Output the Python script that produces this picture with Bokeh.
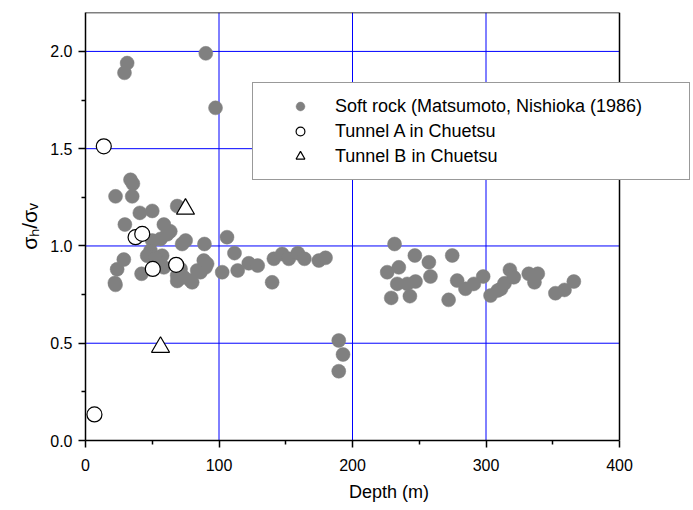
from bokeh.plotting import figure
from bokeh.models import Legend, LegendItem, Range1d, FixedTicker, NumeralTickFormatter
from bokeh.embed import file_html
from bokeh.resources import INLINE

# Soft rock (Matsumoto, Nishioka (1986))
soft_depth = [29.2, 31.2, 90.1, 97.4, 33.7, 35.5, 22.5, 35.0, 40.7, 50.0, 68.7,
              29.5, 58.7, 63.5, 56.2, 106.0, 75.0, 89.1, 72.4, 50.0, 61.2,
              48.7, 28.7, 23.7, 22.0, 22.5, 46.2, 42.0, 57.4, 52.4, 58.7, 56.2,
              68.7, 68.7, 73.6, 78.7, 79.9, 83.7, 86.1, 89.9, 88.6, 91.1, 71.2,
              102.4, 111.6, 114.0, 122.3, 129.0, 139.8, 141.1, 147.3, 152.3, 159.0,
              164.0, 174.8, 179.8, 189.7, 192.9, 189.7,
              231.5, 226.0, 234.7, 233.5, 229.0, 246.7, 241.0, 247.2, 243.0, 257.2, 258.4,
              274.7, 278.4, 272.0, 284.6, 290.9, 297.9, 303.4, 308.8, 311.3, 313.9,
              317.9, 320.8, 332.0, 338.8, 336.3, 352.0, 358.8, 365.8]
soft_ratio = [1.89, 1.94, 1.99, 1.71, 1.34, 1.32, 1.255, 1.255, 1.17, 1.18, 1.205,
              1.11, 1.11, 1.075, 1.036, 1.045, 1.028, 1.01, 1.01, 1.028, 1.06,
              0.976, 0.93, 0.88, 0.81, 0.80, 0.95, 0.857, 0.95, 0.934, 0.89, 0.90,
              0.82, 0.848, 0.839, 0.822, 0.813, 0.874, 0.865, 0.89, 0.925, 0.908, 0.882,
              0.865, 0.963, 0.874, 0.911, 0.899, 0.813, 0.934, 0.959, 0.934, 0.963,
              0.934, 0.925, 0.939, 0.514, 0.442, 0.356,
              1.01, 0.865, 0.89, 0.805, 0.733, 0.951, 0.805, 0.817, 0.742, 0.916, 0.843,
              0.951, 0.822, 0.723, 0.78, 0.805, 0.843, 0.745, 0.771, 0.78, 0.808,
              0.877, 0.839, 0.857, 0.857, 0.813, 0.757, 0.774, 0.817]

# Tunnel A in Chuetsu
tunA_depth = [6.7, 13.7, 37.5, 42.5, 50.4, 67.9]
tunA_ratio = [0.134, 1.512, 1.045, 1.062, 0.882, 0.903]

# Tunnel B in Chuetsu
tunB_depth = [74.9, 56.2]
tunB_ratio = [1.19, 0.48]

x_ticks = [0, 100, 200, 300, 400]
x_minor = [50, 150, 250, 350]
y_ticks = [0.0, 0.5, 1.0, 1.5, 2.0]
y_minor = [0.25, 0.75, 1.25, 1.75]
X_MAX = 400
Y_MAX = 2.2

FONT = "Liberation Sans"

W, H = 693, 510
LEFT, RIGHT, TOP, BOTTOM = 85, 1, 12, 70
frame_w = W - LEFT - RIGHT
axis_px = 534  # pixel length of 0..400 on the x axis
x_end = X_MAX * frame_w / axis_px  # room to the right of the frame for the legend

p = figure(width=W, height=H, output_backend="svg", toolbar_location=None,
           x_range=Range1d(0, x_end), y_range=Range1d(0, Y_MAX),
           min_border_left=LEFT, min_border_right=RIGHT,
           min_border_top=TOP, min_border_bottom=BOTTOM)

p.background_fill_color = "white"
p.border_fill_color = "white"
p.outline_line_color = None
p.xgrid.visible = False
p.ygrid.visible = False

for ax in (p.xaxis[0], p.yaxis[0]):
    ax.axis_line_width = 1.5
    ax.axis_line_color = "black"
    ax.major_tick_line_width = 1.5
    ax.minor_tick_line_width = 1.5
    ax.major_tick_out = 7
    ax.major_tick_in = 0
    ax.minor_tick_out = 4
    ax.minor_tick_in = 0
    ax.major_label_text_font = FONT
    ax.major_label_text_font_size = "16px"
    ax.major_label_text_color = "black"
    ax.axis_label_text_font = FONT
    ax.axis_label_text_font_style = "normal"
    ax.axis_label_text_color = "black"

p.xaxis.bounds = (0, X_MAX)
p.xaxis.ticker = FixedTicker(ticks=x_ticks, minor_ticks=x_minor)
p.yaxis.ticker = FixedTicker(ticks=y_ticks, minor_ticks=y_minor)
p.yaxis.formatter = NumeralTickFormatter(format="0.0")
p.xaxis.major_label_standoff = 11
p.yaxis.major_label_standoff = 6
p.xaxis.axis_label = "Depth (m)"
p.yaxis.axis_label = "σₕ/σᵥ"
p.xaxis.axis_label_text_font_size = "18px"
p.yaxis.axis_label_text_font_size = "21px"
p.xaxis.axis_label_standoff = 8
p.yaxis.axis_label_standoff = 6

# blue grid lines, limited to the 0..400 x 0..2.2 box
gx = x_ticks[1:-1]
p.segment(x0=gx, x1=gx, y0=[0] * len(gx), y1=[Y_MAX] * len(gx),
          line_color="#0000ff", line_width=1)
gy = y_ticks[1:]
p.segment(x0=[0] * len(gy), x1=[X_MAX] * len(gy), y0=gy, y1=gy,
          line_color="#0000ff", line_width=1)
# frame: top and right borders
p.segment(x0=[0, X_MAX], x1=[X_MAX, X_MAX], y0=[Y_MAX, 0], y1=[Y_MAX, Y_MAX],
          line_color="black", line_width=1.5)

r_soft = p.scatter(soft_depth, soft_ratio, marker="circle", size=14,
                   fill_color="#808080", line_color="#808080", line_width=0.5)
r_a = p.scatter(tunA_depth, tunA_ratio, marker="circle", size=15,
                fill_color="white", line_color="black", line_width=1.2)
r_b = p.scatter(tunB_depth, tunB_ratio, marker="triangle", size=18,
                fill_color="white", line_color="black", line_width=1.2)

legend = Legend(items=[
    LegendItem(label="Soft rock (Matsumoto, Nishioka (1986)", renderers=[r_soft]),
    LegendItem(label="Tunnel A in Chuetsu", renderers=[r_a]),
    LegendItem(label="Tunnel B in Chuetsu", renderers=[r_b]),
], location=(167, 260))
legend.padding = 12
legend.glyph_width = 70
legend.glyph_height = 22
legend.label_height = 22
legend.label_standoff = 0
legend.label_width = 342
legend.spacing = 3
legend.margin = 0
legend.label_text_font = FONT
legend.label_text_font_size = "18px"
legend.label_text_color = "black"
legend.border_line_color = "#333333"
legend.border_line_width = 1
legend.background_fill_color = "white"
legend.background_fill_alpha = 1
p.add_layout(legend, "center")

open("out.html", "w").write(file_html(p, INLINE))
